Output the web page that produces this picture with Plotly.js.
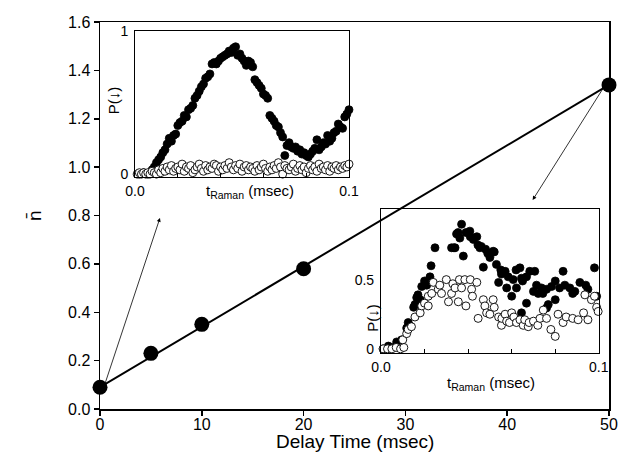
<!DOCTYPE html>
<html><head><meta charset="utf-8">
<script src="https://cdn.plot.ly/plotly-3.0.1.min.js"></script>
<style>body{margin:0;background:#fff}#c{width:636px;height:452px}</style>
</head><body><div id="c"></div>
<script>
// Main plot data
const delayTime = [0, 5, 10, 20, 50];
const nbar = [0.09, 0.23, 0.35, 0.58, 1.34];
const fitX = [0, 50];
const fitY = [0.09, 1.34];

// Inset 1 (delay 0 ms)
const in1BlackX = [0.002,0.004,0.006,0.008,0.009,0.010,0.011,0.012,0.013,0.014,
  0.015,0.016,0.017,0.018,0.019,0.020,0.021,0.022,0.023,0.024,
  0.025,0.026,0.027,0.028,0.029,0.030,0.031,0.032,0.033,0.034,
  0.035,0.036,0.037,0.038,0.039,0.040,0.041,0.042,0.043,0.044,
  0.045,0.046,0.047,0.048,0.049,0.050,0.051,0.052,0.053,0.054,
  0.055,0.056,0.057,0.058,0.059,0.060,0.061,0.062,0.063,0.064,
  0.065,0.066,0.067,0.068,0.069,0.070,0.071,0.072,0.073,0.074,
  0.075,0.076,0.077,0.078,0.079,0.080,0.081,0.082,0.083,0.084,
  0.085,0.086,0.087,0.088,0.089,0.090,0.091,0.092,0.093,0.094,
  0.095,0.096,0.097,0.098,0.099,0.100];
const in1BlackY = [0.00,0.01,0.00,0.03,0.05,0.08,0.10,0.12,0.15,0.17,
  0.21,0.25,0.23,0.27,0.28,0.34,0.36,0.37,0.41,0.40,
  0.45,0.46,0.48,0.53,0.55,0.58,0.61,0.63,0.67,0.68,
  0.70,0.77,0.78,0.77,0.79,0.81,0.82,0.83,0.84,0.86,
  0.85,0.88,0.89,0.83,0.84,0.81,0.79,0.76,0.79,0.78,
  0.75,0.66,0.64,0.62,0.60,0.56,0.55,0.53,0.41,0.39,
  0.37,0.34,0.33,0.29,0.26,0.13,0.20,0.22,0.19,0.18,
  0.19,0.16,0.17,0.14,0.15,0.13,0.12,0.14,0.16,0.18,
  0.24,0.17,0.19,0.22,0.21,0.27,0.23,0.25,0.29,0.30,
  0.35,0.33,0.32,0.40,0.42,0.45];
const in1OpenX = [0.001,0.002,0.003,0.004,0.005,0.006,0.007,0.008,0.009,0.010,
  0.011,0.012,0.013,0.014,0.015,0.016,0.017,0.018,0.019,0.020,
  0.021,0.022,0.023,0.024,0.025,0.026,0.027,0.028,0.029,0.030,
  0.031,0.032,0.033,0.034,0.035,0.036,0.037,0.038,0.039,0.040,
  0.041,0.042,0.043,0.044,0.045,0.046,0.047,0.048,0.049,0.050,
  0.051,0.052,0.053,0.054,0.055,0.056,0.057,0.058,0.059,0.060,
  0.061,0.062,0.063,0.064,0.065,0.066,0.067,0.068,0.069,0.070,
  0.071,0.072,0.073,0.074,0.075,0.076,0.077,0.078,0.079,0.080,
  0.081,0.082,0.083,0.084,0.085,0.086,0.087,0.088,0.089,0.090,
  0.091,0.092,0.093,0.094,0.095,0.096,0.097,0.098,0.099,0.100];
const in1OpenY = [0.00,0.01,0.00,0.01,0.00,0.01,0.00,0.02,0.01,0.00,
  0.03,0.01,0.04,0.02,0.05,0.03,0.06,0.02,0.04,0.05,
  0.03,0.07,0.02,0.05,0.04,0.06,0.01,0.03,0.05,0.07,
  0.04,0.02,0.06,0.03,0.05,0.04,0.07,0.06,0.02,0.05,
  0.03,0.06,0.04,0.08,0.05,0.03,0.06,0.04,0.07,0.02,
  0.05,0.06,0.03,0.05,0.04,0.02,0.06,0.03,0.05,0.07,
  0.04,0.02,0.05,0.03,0.06,0.04,0.08,0.05,0.00,0.06,
  0.04,0.03,0.05,0.07,0.02,0.04,0.06,0.03,0.05,0.01,
  0.04,0.06,0.03,0.05,0.02,0.07,0.04,0.05,0.03,0.06,
  0.02,0.05,0.04,0.06,0.03,0.05,0.04,0.06,0.05,0.07];

// Inset 2 (delay 50 ms)
const in2BlackX = [0.001,0.0034,0.0056,0.0072,0.0095,0.0118,0.0125,0.013,0.015,0.0156,
  0.0164,0.017,0.018,0.0187,0.020,0.021,0.0225,0.023,0.0248,0.0324,
  0.0335,0.034,0.0347,0.0354,0.0362,0.037,0.0378,0.039,0.0408,0.041,
  0.0424,0.044,0.0445,0.0454,0.046,0.047,0.048,0.049,0.050,0.0515,
  0.052,0.053,0.054,0.055,0.0553,0.057,0.0577,0.0584,0.060,0.0607,
  0.062,0.0622,0.0638,0.0645,0.0645,0.065,0.0668,0.0668,0.0683,0.070,
  0.0706,0.0714,0.0722,0.0737,0.0743,0.076,0.076,0.0768,0.0783,0.080,
  0.080,0.082,0.0836,0.0844,0.0867,0.088,0.089,0.0913,0.094,0.095,
  0.098,0.099];
const in2BlackY = [0.00,0.02,0.01,0.05,0.065,0.15,0.19,0.17,0.30,0.32,
  0.37,0.39,0.355,0.45,0.49,0.46,0.52,0.60,0.73,0.73,
  0.73,0.73,0.83,0.84,0.80,0.90,0.67,0.84,0.85,0.81,
  0.79,0.81,0.75,0.73,0.74,0.59,0.72,0.69,0.66,0.705,
  0.70,0.61,0.48,0.57,0.54,0.56,0.44,0.52,0.38,0.50,
  0.57,0.44,0.585,0.51,0.26,0.49,0.52,0.33,0.56,0.415,
  0.56,0.46,0.40,0.44,0.40,0.43,0.295,0.32,0.45,0.355,
  0.49,0.44,0.56,0.46,0.44,0.40,0.415,0.48,0.46,0.43,
  0.585,0.38];
const in2OpenX = [0.001,0.003,0.005,0.007,0.009,0.0105,0.010,0.0118,0.0125,0.014,
  0.0156,0.018,0.0187,0.020,0.0217,0.0217,0.0233,0.024,0.0263,0.027,
  0.0278,0.030,0.031,0.0324,0.033,0.034,0.0355,0.036,0.037,0.0385,
  0.039,0.041,0.0416,0.042,0.044,0.0446,0.047,0.0477,0.0485,0.050,
  0.0515,0.052,0.054,0.0553,0.0555,0.057,0.0577,0.059,0.060,0.061,
  0.0622,0.0638,0.0653,0.066,0.0676,0.068,0.070,0.072,0.073,0.0745,
  0.076,0.078,0.080,0.0813,0.0836,0.085,0.088,0.0905,0.093,0.0936,
  0.095,0.0966,0.098,0.099,0.0997];
const in2OpenY = [0.00,0.00,0.00,0.01,0.00,0.01,0.065,0.11,0.14,0.16,
  0.23,0.26,0.31,0.33,0.31,0.38,0.40,0.48,0.43,0.46,
  0.40,0.50,0.34,0.40,0.47,0.44,0.34,0.50,0.44,0.50,
  0.31,0.50,0.43,0.38,0.48,0.22,0.355,0.31,0.26,0.25,
  0.355,0.30,0.23,0.17,0.22,0.25,0.20,0.19,0.26,0.23,
  0.19,0.21,0.17,0.21,0.16,0.19,0.20,0.17,0.22,0.28,
  0.22,0.14,0.09,0.25,0.19,0.23,0.22,0.21,0.26,0.39,
  0.21,0.355,0.38,0.30,0.27];

// Geometry (paper fractions of plot area)
const in1Dom = {x:[0.0688,0.4892], y:[0.5995,0.9767]};
const in2Dom = {x:[0.552,0.980], y:[0.1447,0.5168]};

const FONT = 'Liberation Sans, Arial, sans-serif';
const black = {color:'#000', size:8, line:{color:'#000', width:0.8}};
const open = {color:'#fff', size:8, line:{color:'#000', width:0.9}};

const traces = [
  {x:fitX, y:fitY, mode:'lines', line:{color:'#000', width:2}, xaxis:'x', yaxis:'y', hoverinfo:'skip'},
  {x:delayTime, y:nbar, mode:'markers', marker:{color:'#000', size:15}, xaxis:'x', yaxis:'y', cliponaxis:false},
  {x:in1BlackX, y:in1BlackY, mode:'markers', marker:black, xaxis:'x2', yaxis:'y2', cliponaxis:false},
  {x:in1OpenX, y:in1OpenY, mode:'markers', marker:open, xaxis:'x2', yaxis:'y2', cliponaxis:false},
  {x:in2BlackX, y:in2BlackY, mode:'markers', marker:black, xaxis:'x3', yaxis:'y3', cliponaxis:false},
  {x:in2OpenX, y:in2OpenY, mode:'markers', marker:open, xaxis:'x3', yaxis:'y3', cliponaxis:false}
];

const insetX = (dom, anchor) => ({
  domain:dom, anchor:anchor, range:[0,0.1], showline:true, mirror:true, linecolor:'#000', linewidth:1,
  tickvals:[0,0.02,0.04,0.06,0.08,0.1], ticktext:['0.0','','','','','0.1'],
  ticks:'inside', ticklen:4, tickcolor:'#000', showgrid:false, zeroline:false, ticklabelstandoff:1,
  tickfont:{family:FONT, size:14, color:'#000'}
});
const insetY = (dom, anchor, rng, vals, txt) => ({
  domain:dom, anchor:anchor, range:rng, showline:true, mirror:true, linecolor:'#000', linewidth:1,
  tickvals:vals, ticktext:txt, ticks:'', showgrid:false, zeroline:false, ticklabelstandoff:3,
  tickfont:{family:FONT, size:14, color:'#000'}
});

const layout = {
  width:636, height:452,
  margin:{l:100, r:27, t:22, b:43},
  paper_bgcolor:'#fff', plot_bgcolor:'rgba(0,0,0,0)',
  showlegend:false,
  font:{family:FONT, color:'#000'},
  xaxis:{range:[0,50], tickvals:[0,10,20,30,40,50], ticks:'outside', ticklen:5, tickwidth:1.5, tickcolor:'#000',
    showline:true, mirror:true, linecolor:'#000', linewidth:1.5, showgrid:false, zeroline:false, ticklabelstandoff:-5,
    tickfont:{family:FONT, size:16, color:'#000'}},
  yaxis:{range:[0,1.6], tickvals:[0,0.2,0.4,0.6,0.8,1.0,1.2,1.4,1.6], tickformat:'.1f',
    ticks:'outside', ticklen:5, tickwidth:1.5, tickcolor:'#000',
    showline:true, mirror:true, linecolor:'#000', linewidth:1.5, showgrid:false, zeroline:false,
    tickfont:{family:FONT, size:16, color:'#000'}},
  xaxis2:insetX(in1Dom.x, 'y2'),
  yaxis2:insetY(in1Dom.y, 'x2', [-0.02,1.0], [0,1], ['0','1']),
  xaxis3:insetX(in2Dom.x, 'y3'),
  yaxis3:insetY(in2Dom.y, 'x3', [-0.03,1.01], [0,0.5], ['0','0.5']),
  shapes:[
    {type:'rect', xref:'paper', yref:'paper', x0:in1Dom.x[0], x1:in1Dom.x[1], y0:in1Dom.y[0], y1:in1Dom.y[1], fillcolor:'#fff', line:{width:0}, layer:'below'},
    {type:'rect', xref:'paper', yref:'paper', x0:in2Dom.x[0], x1:in2Dom.x[1], y0:in2Dom.y[0], y1:in2Dom.y[1], fillcolor:'#fff', line:{width:0}, layer:'below'}
  ],
  annotations:[
    {xref:'paper', yref:'paper', x:0.5, y:-0.083, xanchor:'center', yanchor:'middle', text:'Delay Time (msec)', showarrow:false, font:{family:FONT, size:19, color:'#000'}},
    {xref:'paper', yref:'paper', x:-0.1297, y:0.501, xanchor:'center', yanchor:'middle', text:'n\u0304', textangle:-90, showarrow:false, font:{family:FONT, size:19, color:'#000'}},
    {xref:'paper', yref:'paper', x:0.2947, y:0.562, xanchor:'center', yanchor:'middle', text:'t<sub>Raman</sub> (msec)', showarrow:false, font:{family:FONT, size:15, color:'#000'}},
    {xref:'paper', yref:'paper', x:0.768, y:0.066, xanchor:'center', yanchor:'middle', text:'t<sub>Raman</sub> (msec)', showarrow:false, font:{family:FONT, size:15, color:'#000'}},
    {xref:'paper', yref:'paper', x:0.0255, y:0.798, xanchor:'center', yanchor:'middle', text:'P(\u2193)', textangle:-90, showarrow:false, font:{family:FONT, size:15, color:'#000'}},
    {xref:'paper', yref:'paper', x:0.534, y:0.235, xanchor:'center', yanchor:'middle', text:'P(\u2193)', textangle:-90, showarrow:false, font:{family:FONT, size:15, color:'#000'}},
    {xref:'x', yref:'y', axref:'x', ayref:'y', x:5.89, y:0.79, ax:0.29, ay:0.079, text:'', showarrow:true, arrowhead:2, arrowsize:1, arrowwidth:0.8, arrowcolor:'#000'},
    {xref:'x', yref:'y', axref:'x', ayref:'y', x:42.5, y:0.864, ax:49.5, ay:1.331, text:'', showarrow:true, arrowhead:2, arrowsize:1, arrowwidth:0.8, arrowcolor:'#000'}
  ]
};
Plotly.newPlot('c', traces, layout, {displayModeBar:false, staticPlot:true});
</script></body></html>
